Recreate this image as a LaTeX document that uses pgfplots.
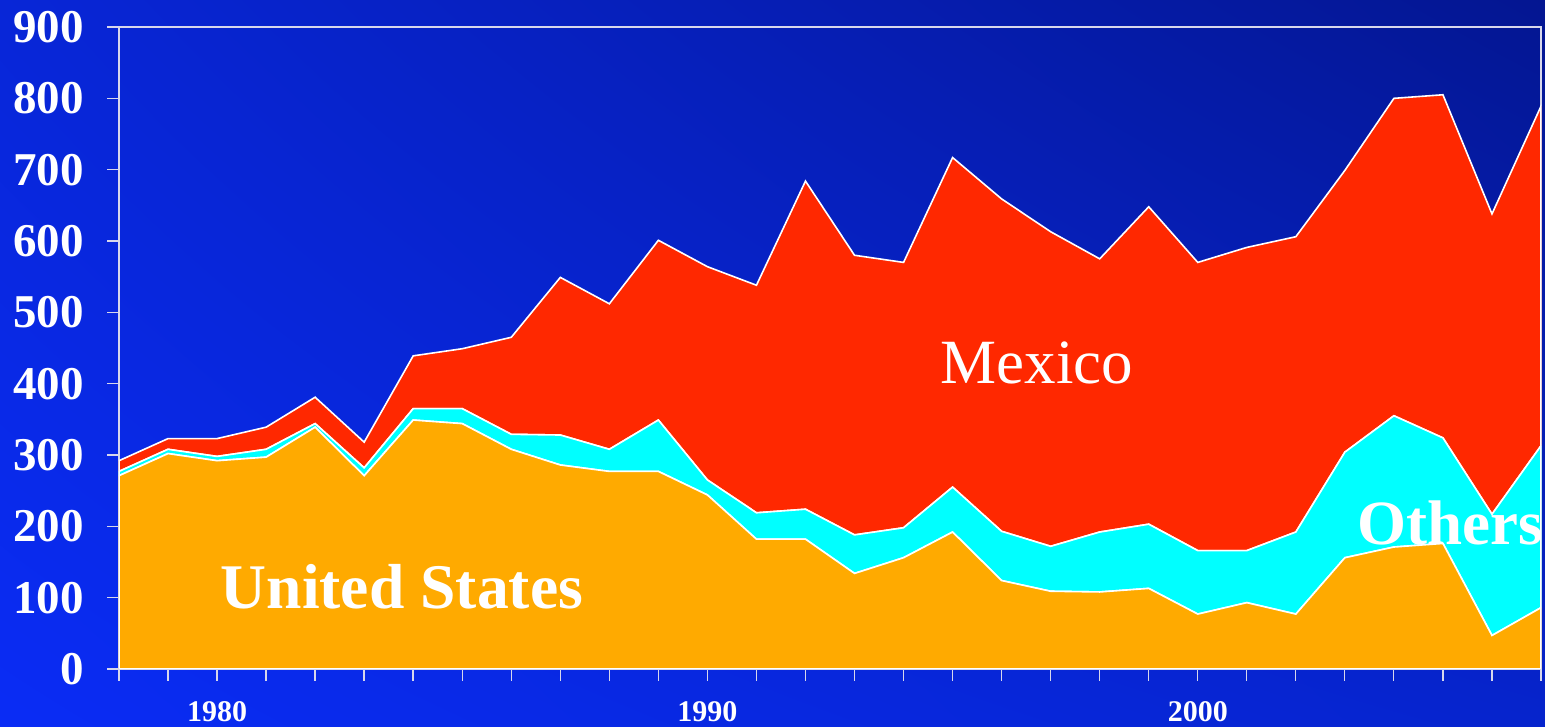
\documentclass[border=0pt]{standalone}
\usepackage{pgfplots}
\pgfplotsset{compat=1.18}
\usepackage{pgfplotstable}
\usetikzlibrary{shadings}
\usepackage{fontspec}
\setmainfont{Liberation Serif}
\definecolor{usorange}{RGB}{255,170,0}
\definecolor{othcyan}{RGB}{0,255,255}
\definecolor{mexred}{RGB}{255,40,0}
\definecolor{bgLL}{RGB}{10,44,245}
\definecolor{bgUL}{RGB}{8,38,215}
\definecolor{bgUR}{RGB}{4,22,145}
\definecolor{bgLR}{RGB}{6,36,205}
\definecolor{axgray}{RGB}{215,215,235}

\pgfplotstableread{
year us others mexico
1978 271 6 15
1979 302 6 15
1980 292 6 25
1981 297 11 31
1982 339 5 37
1983 271 11 36
1984 349 16 74
1985 344 21 84
1986 308 21 136
1987 286 42 221
1988 277 31 204
1989 277 72 252
1990 244 21 299
1991 182 37 319
1992 182 42 460
1993 134 54 392
1994 156 42 372
1995 192 63 462
1996 124 69 466
1997 109 63 441
1998 108 84 383
1999 113 90 445
2000 77 89 404
2001 93 73 425
2002 77 115 414
2003 156 148 395
2004 171 184 445
2005 176 148 481
2006 47 170 421
2007 86 227 476
}\datatable

\begin{document}
\begin{tikzpicture}
\shade[lower left=bgLL, upper left=bgUL, upper right=bgUR, lower right=bgLR]
  (-59.5pt,-29pt) rectangle (713pt,334.5pt);
\begin{axis}[
  at={(0pt,0pt)}, anchor=south west,
  scale only axis, width=711pt, height=321pt,
  xmin=1978, xmax=2007, ymin=0, ymax=900,
  stack plots=y,
  axis line style={draw=axgray, line width=0.7pt},
  tick align=outside,
  xtick pos=bottom, ytick pos=left,
  major tick length=6pt, minor tick length=6pt,
  tick style={draw=axgray, line width=0.7pt},
  minor tick style={draw=axgray, line width=0.7pt},
  ytick={0,100,...,900},
  xtick={1980,1990,2000},
  xticklabels={1980,1990,2000},
  minor xtick={1978,1979,...,2007},
  /pgf/number format/assume math mode=true,
  yticklabel style={font=\bfseries\fontsize{23.5}{23.5}\selectfont, text=white, xshift=-8pt},
  xticklabel style={font=\bfseries\fontsize{15}{15}\selectfont, text=white, yshift=-6.5pt},
  after end axis/.code={
    \begin{scope}
    \clip (axis cs:1978,0) rectangle (axis cs:2007,900);
    \node[font=\bfseries\fontsize{31.8}{31.8}\selectfont, text=white, anchor=base] at (axis cs:1983.77,85.5) {United States};
    \node[font=\fontsize{31.5}{31.5}\selectfont, text=white, anchor=base] at (axis cs:1996.72,400.6) {Mexico};
    \node[font=\bfseries\fontsize{31.5}{31.5}\selectfont, text=white, anchor=base] at (axis cs:2005.15,175.2) {Others};
    \end{scope}
  },
]
\addplot[fill=usorange, draw=white, line width=0.8pt] table[x=year,y=us]{\datatable} \closedcycle;
\addplot[fill=othcyan, draw=white, line width=0.8pt] table[x=year,y=others]{\datatable} \closedcycle;
\addplot[fill=mexred, draw=white, line width=0.8pt] table[x=year,y=mexico]{\datatable} \closedcycle;
\end{axis}
\pgfresetboundingbox
\path (-59.5pt,-29pt) rectangle (713pt,334.5pt);
\end{tikzpicture}
\end{document}
